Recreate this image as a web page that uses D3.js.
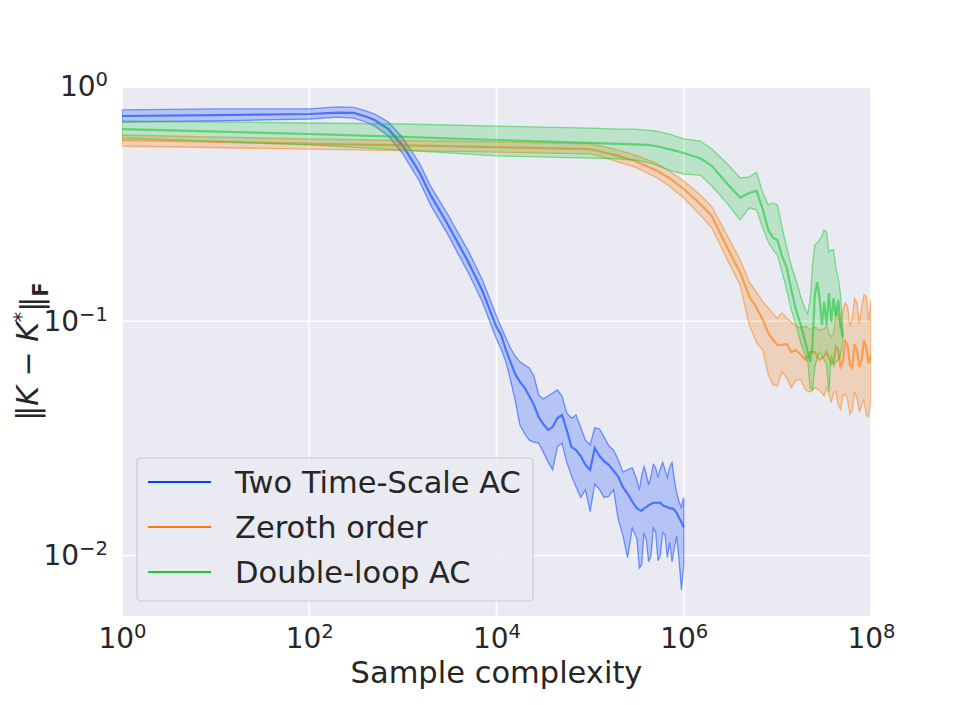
<!DOCTYPE html>
<html>
<head>
<meta charset="utf-8">
<script src="https://cdn.jsdelivr.net/npm/d3@7"></script>
<style>
  body { margin: 0; background: #fff; }
  text { font-family: "DejaVu Sans", sans-serif; fill: #262626; }
</style>
</head>
<body>
<div id="wrapper"></div>
<script>
// ---- data ----
const seriesNames = ['Two Time-Scale AC', 'Zeroth order', 'Double-loop AC'];
const seriesColors = ['#023eff', '#ff7c00', '#1ac938'];

const xTicks = [1, 1e2, 1e4, 1e6, 1e8];
const xTickExp = ['0', '2', '4', '6', '8'];
const yTicks = [1, 0.1, 0.01];
const yTickExp = ['0', '\u22121', '\u22122'];
const yLimits = [0.00552, 1];
const xLimits = [1, 1e8];

// Two Time-Scale AC
const tsN = [1, 10, 100, 200, 300, 400, 500, 700, 1000, 1500, 2000, 3000, 5000, 7000,
  1e4, 1.12e4, 1.26e4, 1.41e4, 1.58e4, 1.78e4, 2e4, 2.24e4, 2.51e4, 2.82e4, 3.16e4, 3.55e4, 3.98e4, 4.47e4, 5.01e4, 5.62e4, 6.31e4, 7.08e4, 7.94e4, 8.91e4,
  1e5, 1.12e5, 1.26e5, 1.41e5, 1.58e5, 1.78e5, 2e5, 2.24e5, 2.51e5, 2.82e5,
  3.16e5, 3.35e5, 3.55e5, 3.76e5, 3.98e5, 4.22e5, 4.47e5, 4.73e5, 5.01e5, 5.31e5, 5.62e5, 5.96e5, 6.31e5, 6.68e5, 7.08e5, 7.5e5, 7.94e5, 8.41e5, 8.91e5, 9.44e5,
  1e6];
const tsMean = [0.752, 0.759, 0.767, 0.778, 0.775, 0.748, 0.723, 0.661, 0.560, 0.433, 0.343, 0.260, 0.179, 0.136,
  0.0945, 0.0874, 0.0754, 0.0671, 0.0596, 0.0551, 0.0520, 0.0480, 0.0439, 0.0390, 0.0364, 0.0344, 0.0354, 0.0386, 0.0398, 0.0344, 0.0291, 0.0282, 0.0266, 0.0244,
  0.0232, 0.0288, 0.0266, 0.0253, 0.0244, 0.0230, 0.0217, 0.0196, 0.0184, 0.0170,
  0.0159, 0.0157, 0.0155, 0.0159, 0.0161, 0.0164, 0.0166, 0.0168, 0.0168, 0.0168, 0.0168, 0.0164, 0.0162, 0.0161, 0.0159, 0.0159, 0.0157, 0.0152, 0.0145, 0.0139,
  0.0132];
const tsHigh = [0.798, 0.806, 0.806, 0.822, 0.818, 0.790, 0.767, 0.709, 0.606, 0.474, 0.374, 0.287, 0.1995, 0.1516,
  0.1053, 0.0945, 0.0849, 0.0769, 0.0711, 0.0671, 0.0651, 0.0632, 0.0584, 0.0485, 0.0466, 0.0480, 0.0494, 0.0509, 0.0480, 0.0406, 0.0386, 0.0398, 0.0351, 0.0311,
  0.0297, 0.0351, 0.0347, 0.0321, 0.0294, 0.0282, 0.0256, 0.0227, 0.0232, 0.0237,
  0.0210, 0.0190, 0.0219, 0.0240, 0.0223, 0.0200, 0.0219, 0.0245, 0.0237, 0.0215, 0.0234, 0.0250, 0.0232, 0.0215, 0.0239, 0.0250, 0.0210, 0.0185, 0.0170, 0.0160,
  0.0177];
const tsLow = [0.709, 0.716, 0.730, 0.744, 0.737, 0.709, 0.681, 0.618, 0.518, 0.397, 0.311, 0.236, 0.161, 0.1221,
  0.0840, 0.0761, 0.0671, 0.0562, 0.0461, 0.0361, 0.0331, 0.0311, 0.0305, 0.0302, 0.0277, 0.0251, 0.0232, 0.0291, 0.0302, 0.0251, 0.0219, 0.0196, 0.0177, 0.0191,
  0.0154, 0.0202, 0.0191, 0.0177, 0.0179, 0.0191, 0.0142, 0.0122, 0.0098, 0.0131,
  0.0118, 0.00885, 0.00912, 0.0125, 0.0117, 0.0094, 0.0100, 0.0131, 0.0126, 0.0095, 0.0100, 0.0125, 0.0123, 0.0098, 0.0114, 0.0094, 0.0108, 0.0121, 0.00958, 0.00713,
  0.0090];

// Zeroth order
const zoN = [1, 100, 1000, 1e4, 1e5, 1.5e5, 2e5, 3e5, 5e5, 7e5, 1e6, 1.5e6, 2e6, 3e6, 4e6, 5e6, 6e6, 7e6, 8e6, 9e6,
  1e7, 1.12e7, 1.26e7, 1.41e7, 1.58e7, 1.78e7, 2e7, 2.24e7, 2.51e7, 2.82e7,
  3.16e7, 3.35e7, 3.55e7, 3.76e7, 3.98e7, 4.22e7, 4.47e7, 4.73e7, 5.01e7, 5.31e7, 5.62e7, 5.96e7, 6.31e7, 6.68e7, 7.08e7, 7.5e7, 7.94e7, 8.41e7, 8.91e7, 9.44e7,
  1e8];
const zoMean = [0.594, 0.572, 0.563, 0.554, 0.543, 0.523, 0.508, 0.483, 0.442, 0.409, 0.367, 0.317, 0.281, 0.2015, 0.162, 0.128, 0.114, 0.1013, 0.0891, 0.0832,
  0.0792, 0.0792, 0.0800, 0.0739, 0.0754, 0.0718, 0.0684, 0.0739, 0.0739, 0.0684,
  0.0711, 0.0740, 0.0697, 0.0660, 0.0671, 0.0780, 0.0754, 0.0640, 0.0671, 0.0820, 0.0792, 0.0650, 0.0632, 0.0800, 0.0754, 0.0640, 0.0684, 0.0830, 0.0769, 0.0660,
  0.0718];
const zoHigh = [0.624, 0.600, 0.591, 0.583, 0.572, 0.554, 0.538, 0.513, 0.474, 0.438, 0.397, 0.346, 0.308, 0.227, 0.183, 0.147, 0.133, 0.121, 0.114, 0.1075,
  0.1033, 0.1086, 0.1033, 0.0993, 0.0955, 0.0936, 0.0955, 0.0918, 0.0945, 0.0918,
  0.0927, 0.0960, 0.0892, 0.0860, 0.0883, 0.1120, 0.1064, 0.0930, 0.1117, 0.1200, 0.1163, 0.0950, 0.1033, 0.1250, 0.1198, 0.0980, 0.1140, 0.1300, 0.1271, 0.1000,
  0.1233];
const zoLow = [0.560, 0.543, 0.535, 0.527, 0.518, 0.497, 0.478, 0.456, 0.413, 0.378, 0.336, 0.284, 0.250, 0.179, 0.143, 0.097, 0.081, 0.0754, 0.059, 0.0535,
  0.0530, 0.0608, 0.0573, 0.0520, 0.0562, 0.0562, 0.0509, 0.0499, 0.0520, 0.0509,
  0.0480, 0.0520, 0.0490, 0.0450, 0.0499, 0.0500, 0.0439, 0.0420, 0.0480, 0.0490, 0.0461, 0.0400, 0.0418, 0.0500, 0.0470, 0.0410, 0.0439, 0.0460, 0.0398, 0.0390,
  0.0470];

// Double-loop AC
const dlN = [1, 100, 1000, 1e4, 1e5, 2e5, 3e5, 4e5, 5e5, 7e5, 1e6, 1.5e6, 2e6, 3e6, 4e6, 5e6, 6e6, 7e6, 8e6, 9e6, 1e7,
  1.12e7, 1.26e7, 1.41e7, 1.58e7, 1.78e7,
  2e7, 2.11e7, 2.24e7, 2.37e7, 2.51e7, 2.66e7, 2.82e7, 2.99e7, 3.16e7, 3.35e7, 3.55e7, 3.76e7, 3.98e7, 4.22e7, 4.47e7, 4.73e7, 5.01e7];
const dlMean = [0.661, 0.630, 0.612, 0.594, 0.577, 0.572, 0.569, 0.566, 0.560, 0.543, 0.523, 0.497, 0.460, 0.382, 0.337, 0.353, 0.360, 0.299, 0.2453, 0.227, 0.2223,
  0.190, 0.169, 0.136, 0.1117, 0.0964,
  0.0808, 0.0739, 0.0671, 0.0792, 0.1295, 0.147, 0.1257, 0.0964, 0.121, 0.0964, 0.132, 0.0993, 0.1257, 0.1053, 0.1233, 0.0964, 0.0857];
const dlHigh = [0.716, 0.702, 0.695, 0.681, 0.668, 0.661, 0.661, 0.655, 0.649, 0.630, 0.600, 0.588, 0.543, 0.465, 0.409, 0.413, 0.433, 0.353, 0.314, 0.320, 0.314,
  0.253, 0.206, 0.172, 0.1501, 0.127,
  0.1117, 0.1075, 0.1233, 0.1739, 0.2117, 0.216, 0.2223, 0.231, 0.2453, 0.2405, 0.1976, 0.2015, 0.2015, 0.169, 0.153, 0.1295, 0.0918];
const dlLow = [0.606, 0.566, 0.538, 0.508, 0.497, 0.493, 0.488, 0.478, 0.465, 0.442, 0.425, 0.421, 0.378, 0.314, 0.2705, 0.305, 0.299, 0.250, 0.218, 0.2015, 0.1919,
  0.1624, 0.136, 0.1117, 0.0964, 0.0808,
  0.0704, 0.0671, 0.0520, 0.0509, 0.0638, 0.0697, 0.0739, 0.0711, 0.0684, 0.0651, 0.0499, 0.0718, 0.0645, 0.0671, 0.0684, 0.0718, 0.0816];

// ---- drawing ----
const width = 969;
const height = 705;
const margin = { top: 87, right: 98, bottom: 89, left: 122 };
const boundedWidth = width - margin.left - margin.right;
const boundedHeight = height - margin.top - margin.bottom;

const svg = d3.select('#wrapper').append('svg')
    .attr('width', width)
    .attr('height', height);

const bounds = svg.append('g')
    .attr('transform', `translate(${margin.left}, ${margin.top})`);

const xScale = d3.scaleLog().domain(xLimits).range([0, boundedWidth]);
const yScale = d3.scaleLog().domain(yLimits).range([boundedHeight, 0]);

bounds.append('rect')
    .attr('width', boundedWidth)
    .attr('height', boundedHeight)
    .attr('fill', '#eaeaf2');

// grid
bounds.append('g').selectAll('line').data(xTicks).join('line')
    .attr('x1', d => xScale(d)).attr('x2', d => xScale(d))
    .attr('y1', 0).attr('y2', boundedHeight)
    .attr('stroke', '#fff').attr('stroke-width', 1.6);
bounds.append('g').selectAll('line').data(yTicks).join('line')
    .attr('x1', 0).attr('x2', boundedWidth)
    .attr('y1', d => yScale(d)).attr('y2', d => yScale(d))
    .attr('stroke', '#fff').attr('stroke-width', 1.6);

bounds.append('defs').append('clipPath')
    .attr('id', 'bounds-clip-path')
    .append('rect')
    .attr('width', boundedWidth)
    .attr('height', boundedHeight);

const clip = bounds.append('g')
    .attr('clip-path', 'url(#bounds-clip-path)');

const allSeries = [
    { n: tsN, mean: tsMean, lo: tsLow, hi: tsHigh },
    { n: zoN, mean: zoMean, lo: zoLow, hi: zoHigh },
    { n: dlN, mean: dlMean, lo: dlLow, hi: dlHigh }
];

allSeries.forEach((s, i) => {
    const rows = s.n.map((n, j) => ({ n, m: s.mean[j], lo: s.lo[j], hi: s.hi[j] }));
    const area = d3.area()
        .x(d => xScale(d.n))
        .y0(d => yScale(d.lo))
        .y1(d => yScale(d.hi));
    const line = d3.line()
        .x(d => xScale(d.n))
        .y(d => yScale(d.m));
    clip.append('path')
        .attr('d', area(rows))
        .attr('fill', seriesColors[i])
        .attr('fill-opacity', 0.22)
        .attr('stroke', seriesColors[i])
        .attr('stroke-opacity', 0.5)
        .attr('stroke-width', 1.3);
    clip.append('path')
        .attr('d', line(rows))
        .attr('fill', 'none')
        .attr('stroke', seriesColors[i])
        .attr('stroke-opacity', 0.6)
        .attr('stroke-width', 2.2);
});

// axes
const tickFont = 28;
const xAxisGenerator = d3.axisBottom(xScale)
    .tickValues(xTicks)
    .tickSize(0)
    .tickPadding(12)
    .tickFormat(() => '');
const xAxis = bounds.append('g')
    .attr('transform', `translate(0, ${boundedHeight})`)
    .call(xAxisGenerator);
const yAxisGenerator = d3.axisLeft(yScale)
    .tickValues(yTicks)
    .tickSize(0)
    .tickPadding(14)
    .tickFormat(() => '');
const yAxis = bounds.append('g')
    .call(yAxisGenerator);

[[xAxis, xTickExp], [yAxis, yTickExp]].forEach(([ax, exps]) => {
    ax.select('.domain').remove();
    ax.attr('font-size', tickFont).attr('font-family', null);
    ax.selectAll('.tick text').each(function(d, i) {
        const t = d3.select(this).attr('fill', '#262626');
        t.append('tspan').text('10');
        t.append('tspan')
            .attr('dy', '-0.52em')
            .attr('font-size', tickFont * 0.7)
            .text(exps[i]);
    });
});

svg.append('text')
    .attr('x', margin.left + boundedWidth / 2)
    .attr('y', 683)
    .attr('text-anchor', 'middle')
    .attr('font-size', 30.5)
    .text('Sample complexity');

const yLabel = svg.append('text')
    .attr('transform', `translate(38, ${margin.top + boundedHeight / 2}) rotate(-90)`)
    .attr('text-anchor', 'middle')
    .attr('font-size', 30);
yLabel.append('tspan').text('\u2016');
yLabel.append('tspan').attr('font-style', 'italic').text('K');
yLabel.append('tspan').text(' \u2212 ');
yLabel.append('tspan').attr('font-style', 'italic').text('K');
yLabel.append('tspan').attr('dy', '-0.45em').attr('font-size', 21).text('*');
yLabel.append('tspan').attr('dy', '0.45em').text('\u2016');
yLabel.append('tspan').attr('dy', '0.3em').attr('font-size', 21).attr('font-weight', 'bold').text('F');

// legend
const legend = svg.append('g')
    .attr('transform', 'translate(137, 458)');
legend.append('rect')
    .attr('width', 396)
    .attr('height', 143)
    .attr('rx', 4)
    .attr('fill', '#eaeaf2')
    .attr('fill-opacity', 0.8)
    .attr('stroke', '#cccccc')
    .attr('stroke-width', 1.2);
const legendItems = legend.selectAll('g').data(seriesNames).join('g')
    .attr('transform', (d, i) => `translate(0, ${24 + i * 45})`);
legendItems.append('line')
    .attr('x1', 11).attr('x2', 74)
    .attr('stroke', (d, i) => seriesColors[i])
    .attr('stroke-width', 2);
legendItems.append('text')
    .attr('x', 98)
    .attr('dy', '0.35em')
    .attr('font-size', 30.5)
    .text(d => d);
</script>
</body>
</html>
